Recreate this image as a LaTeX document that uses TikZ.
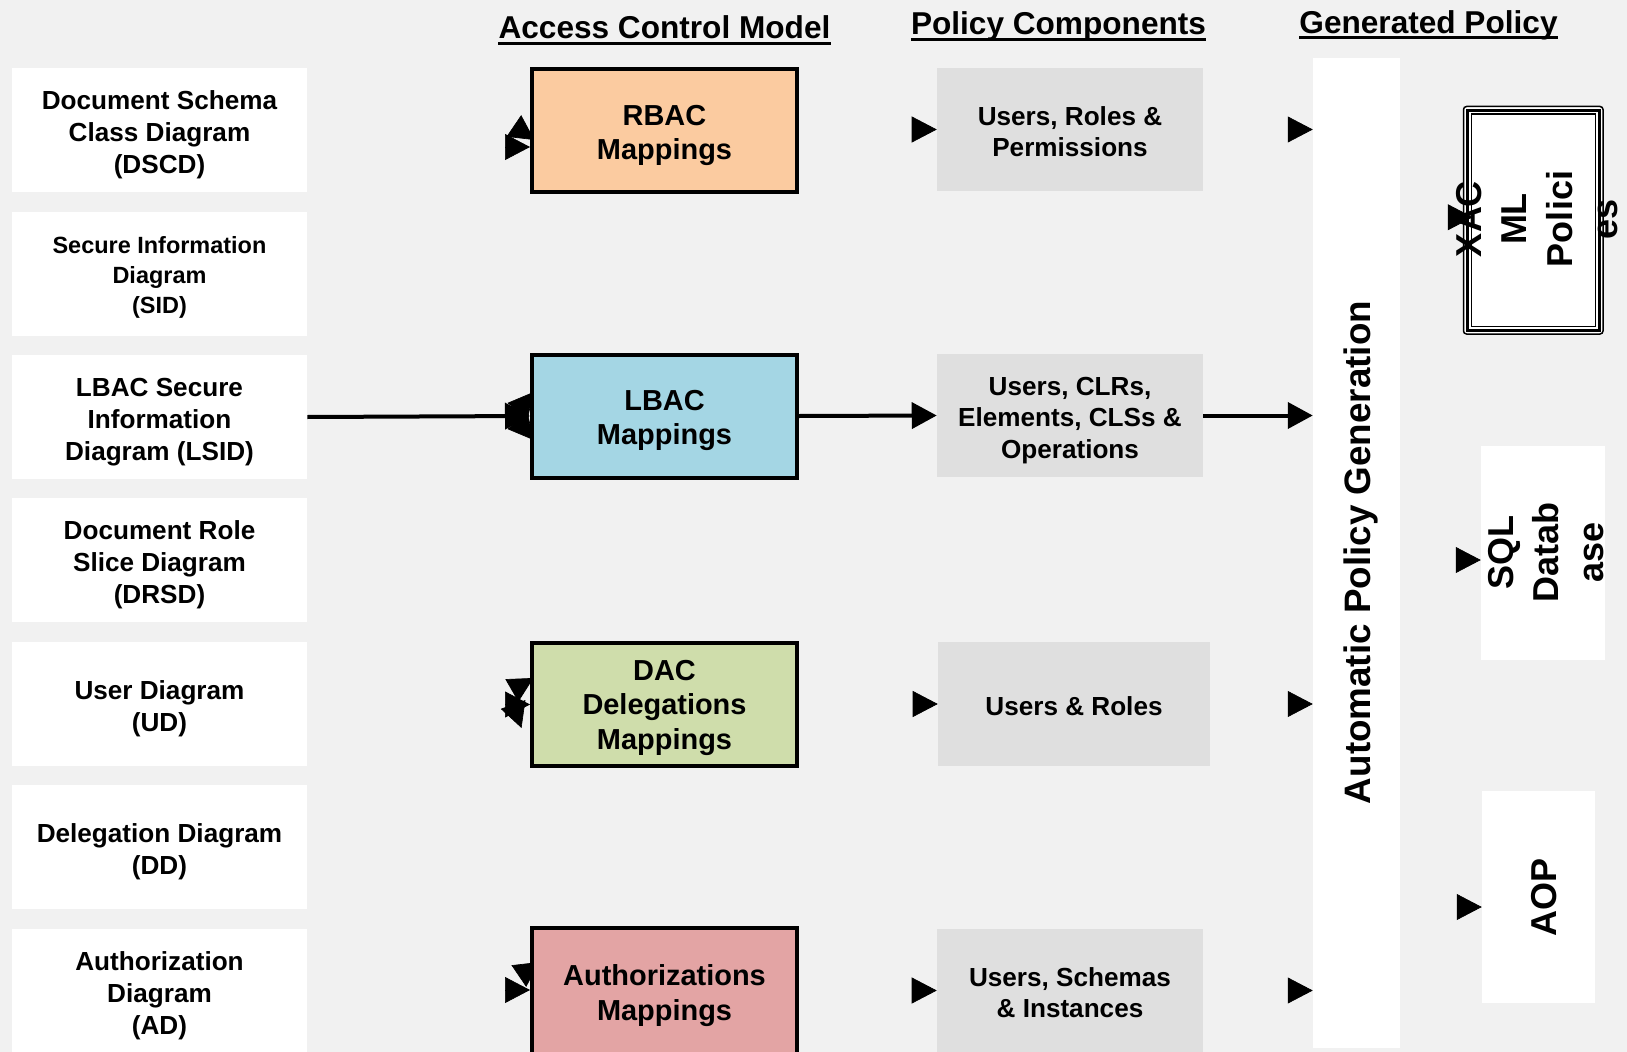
\documentclass[tikz,border=0pt]{standalone}
\usepackage{fontspec}
\setmainfont{Liberation Sans}
\usetikzlibrary{arrows.meta,calc,backgrounds}
\definecolor{bgc}{HTML}{F1F1F1}
\definecolor{compc}{HTML}{DFDFDF}
\definecolor{rbacc}{HTML}{FBCBA0}
\definecolor{lbacc}{HTML}{A4D6E4}
\definecolor{dacc}{HTML}{CFDDAB}
\definecolor{authc}{HTML}{E3A4A4}
\newcommand\fLeft{\fontsize{19.6pt}{24.1pt}\selectfont\bfseries}
\newcommand\fSid{\fontsize{17.6pt}{22.5pt}\selectfont\bfseries}
\newcommand\fMap{\fontsize{21.7pt}{25.6pt}\selectfont\bfseries}
\newcommand\fComp{\fontsize{19.6pt}{23.6pt}\selectfont\bfseries}
\newcommand\fHead{\fontsize{23.7pt}{28pt}\selectfont\bfseries}
\newcommand\fGen{\fontsize{27.6pt}{33pt}\selectfont\bfseries}
\newcommand\fOut{\fontsize{27pt}{34pt}\selectfont\bfseries}
% invisible struts that lower the text block inside its box
\newcommand\lsA{\rule{0pt}{1.11em}}
\newcommand\lsB{\rule{0pt}{0.98em}}
\newcommand\msA{\rule{0pt}{1.02em}}
\newcommand\msB{\rule{0pt}{0.93em}}
\newcommand\msC{\rule{0pt}{0.87em}}
\newcommand\csA{\rule{0pt}{0.88em}}
\newcommand\csB{\rule{0pt}{1.07em}}
\begin{document}
\begin{tikzpicture}[x=0.75pt,y=-0.75pt,
  srcbox/.style={fill=white, minimum width=295*0.75pt, minimum height=124*0.75pt, inner sep=0pt, align=center, font=\fLeft},
  mapbox/.style={draw=black, line width=3pt, minimum width=265*0.75pt, minimum height=123*0.75pt, inner sep=0pt, align=center, font=\fMap},
  compbox/.style={fill=compc, minimum width=266*0.75pt, minimum height=123*0.75pt, inner sep=0pt, align=center, font=\fComp},
  hdr/.style={font=\fHead, inner sep=0pt, anchor=base},
  uline/.style={line width=2.7*0.75pt},
  outbox/.style={fill=white, inner sep=0pt},
  rottext/.style={rotate=90, align=center, inner sep=0pt, font=\fOut},
  conn/.style={line width=3pt, -{Triangle[length=18.75pt,width=19.5pt]}},
  tipw/.style={line width=0.5pt, -{Triangle[length=18.75pt,width=19.5pt]}}
]
\useasboundingbox (0,0) rectangle (1627,1052);

% headers
\node[hdr] (h1) at (664.5,39) {Access Control Model};
\draw[uline] ($(h1.base west)+(0,4.5)$) -- ($(h1.base east)+(0,4.5)$);
\node[hdr] (h2) at (1058.5,35) {Policy Components};
\draw[uline] ($(h2.base west)+(0,4.5)$) -- ($(h2.base east)+(0,4.5)$);
\node[hdr] (h3) at (1428.5,34) {Generated Policy};
\draw[uline] ($(h3.base west)+(0,3.5)$) -- ($(h3.base east)+(0,3.5)$);

% left diagrams
\node[srcbox] (d1) at (159.5,130) {\lsA Document Schema\\Class Diagram\\(DSCD)};
\node[srcbox, font=\fSid] (d2) at (159.5,274) {\lsB Secure Information\\Diagram\\(SID)};
\node[srcbox] (d3) at (159.5,417) {\lsA LBAC Secure\\Information\\Diagram (LSID)};
\node[srcbox] (d4) at (159.5,560) {\lsA Document Role\\Slice Diagram\\(DRSD)};
\node[srcbox] (d5) at (159.5,703.5) {\lsA User Diagram\\(UD)};
\node[srcbox] (d6) at (159.5,846.5) {\lsA Delegation Diagram\\(DD)};
\node[srcbox] (d7) at (159.5,991) {\lsA Authorization\\Diagram\\(AD)};

% access control model mappings
\node[mapbox, fill=rbacc] (rbac) at (664.5,130.5) {\msA RBAC\\Mappings};
\node[mapbox, fill=lbacc] (lbac) at (664.5,416) {\msA LBAC\\Mappings};
\node[mapbox, fill=dacc] (dac) at (664.5,704.5) {\msB DAC\\Delegations\\Mappings};
\node[mapbox, fill=authc, minimum height=131*0.75pt] (auth) at (664.5,993.5) {\msC Authorizations\\Mappings};

% policy components
\node[compbox] (c1) at (1070,129.5) {\csA Users, Roles \&\\Permissions};
\node[compbox] (c2) at (1070,415.5) {\csB Users, CLRs,\\Elements, CLSs \&\\Operations};
\node[compbox, minimum width=272*0.75pt, minimum height=124*0.75pt] (c3) at (1074,704) {\csA Users \& Roles};
\node[compbox] (c4) at (1070,990.5) {\csA Users, Schemas\\\& Instances};

% generation
\node[outbox, minimum width=87*0.75pt, minimum height=990*0.75pt] (gen) at (1356.5,553) {};
\node[rottext, font=\fGen, anchor=base] (genl) at (1370,552.5) {Automatic Policy Generation};

% outputs
\node[outbox, draw=black, line width=1.5*0.75pt, rounded corners=3*0.75pt, minimum width=139.5*0.75pt, minimum height=227.5*0.75pt] (xacml) at (1533.25,220.25) {};
\draw[line width=2.7*0.75pt] ($(xacml.north west)+(4.5,4.5)$) rectangle ($(xacml.south east)+(-4.5,-4.5)$);
\draw[line width=1.5*0.75pt] ($(xacml.north west)+(8.5,8.5)$) rectangle ($(xacml.south east)+(-8.5,-8.5)$);
\node[outbox, minimum width=124*0.75pt, minimum height=214*0.75pt] (sql) at (1543,553) {};
\node[outbox, minimum width=113*0.75pt, minimum height=212*0.75pt] (aop) at (1538.5,897) {};

% background layer: page and arrowheads hidden under the mapping boxes
\begin{scope}[on background layer]
\fill[bgc] (0,0) rectangle (1627,1052);
\draw[conn] (d3.east) -- (lbac.west);
% RBAC
\draw[tipw] ($(rbac.west)+(-3,16.5)$) -- ($(rbac.west)+(0,16.5)$);
\draw[tipw] ($(rbac.west)+(2,7.8)$) -- ($(rbac.west)+(4.5,9.5)$);
% LBAC
\draw[tipw] ($(lbac.west)+(1.6,-21.7)$) -- ($(lbac.west)+(3.5,-24)$);
\draw[tipw] ($(lbac.west)+(1.6,21.7)$) -- ($(lbac.west)+(3.5,24)$);
% DAC
\draw[tipw] ($(dac.west)+(-3,0)$) -- (dac.west);
\draw[tipw] ($(dac.west)+(0.9,-25)$) -- ($(dac.west)+(3.5,-26.5)$);
\draw[tipw] ($(dac.west)+(-9.5,20.7)$) -- ($(dac.west)+(-8.5,23.5)$);
% Authorizations
\draw[tipw] ($(auth.west)+(7,-29.8)$) -- ($(auth.west)+(9.5,-31.5)$);
\draw[tipw] ($(auth.west)+(-3,-3.5)$) -- ($(auth.west)+(0,-3.5)$);
\end{scope}

% mapping -> components
\draw[tipw] ($(c1.west)+(-3,0)$) -- (c1.west);
\draw[conn] (lbac.east) -- (c2.west);
\draw[tipw] ($(c3.west)+(-3,0)$) -- (c3.west);
\draw[tipw] ($(c4.west)+(-3,0)$) -- (c4.west);

% components -> generation
\draw[tipw] ($(gen.west |- c1.east)+(-3,0)$) -- (gen.west |- c1.east);
\draw[conn] (c2.east) -- (gen.west |- c2.east);
\draw[tipw] ($(gen.west |- c3.east)+(-3,0)$) -- (gen.west |- c3.east);
\draw[tipw] ($(gen.west |- c4.east)+(-3,0)$) -- (gen.west |- c4.east);

% generation -> outputs
\draw[tipw] ($(xacml.west)+(7,-3)$) -- ($(xacml.west)+(10,-3)$);
\draw[tipw] ($(sql.west)+(-3,7)$) -- ($(sql.west)+(0,7)$);
\draw[tipw] ($(aop.west)+(-3,10)$) -- ($(aop.west)+(0,10)$);

% output labels
\node[rottext] (xacl) at (1537,219) {XAC\\ML\\Polici\\es};
\node[rottext] (sqll) at (1546,552.5) {SQL\\Datab\\ase};
\node[rottext, anchor=base] (aopl) at (1556,897) {AOP};
\end{tikzpicture}
\end{document}
